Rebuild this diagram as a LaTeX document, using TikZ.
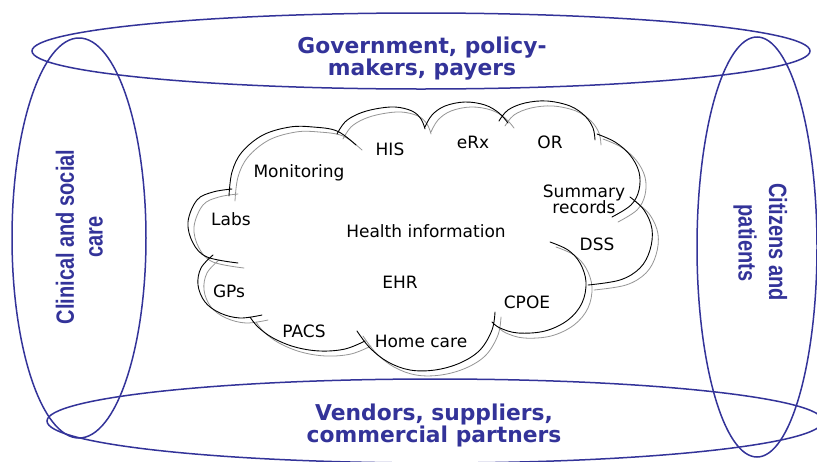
\documentclass[tikz,border=0pt]{standalone}
\usepackage{fontspec}
\setmainfont{DejaVu Sans}
\newfontfamily\narrowbold{Liberation Sans}[FakeStretch=0.8]
\definecolor{ebl}{RGB}{51,51,153}
\definecolor{shadowgray}{RGB}{150,150,150}
\newcommand\cloudbumps{%
  % Labs
  plot[smooth,tension=0.6] coordinates {(232,189) (213,192) (197,200) (188,222) (193,243) (207,257) (238,263)}
  % Monitoring
  plot[smooth,tension=0.6] coordinates {(229,196) (232,172) (242,152) (263,135) (290,127) (313,127) (337,131) (356,145)}
  % HIS
  plot[smooth,tension=0.6] coordinates {(337,134) (345,122) (358,114) (375,109) (395,107) (412,111) (421,119) (425,129)}
  % eRx
  plot[smooth,tension=0.6] coordinates {(425,127) (432,115) (445,106) (465,102) (485,105) (499,113) (508,123)}
  % OR
  plot[smooth,tension=0.6] coordinates {(499,121) (508,110) (525,103) (547,101) (570,106) (585,116) (593,128) (595,140)}
  % Summary
  plot[smooth,tension=0.6] coordinates {(597,134) (615,142) (630,155) (639,172) (639,190) (631,205) (612,217)}
  % DSS
  plot[smooth,tension=0.6] coordinates {(630,197) (644,210) (652,229) (650,250) (640,268) (620,280) (588,285)}
  % CPOE
  plot[smooth,tension=0.6] coordinates {(550,242) (568,250) (580,263) (586,282) (582,303) (568,320) (545,331) (518,333) (500,328) (492,322)}
  % Home care
  plot[smooth,tension=0.6] coordinates {(495,312) (492,330) (480,350) (460,363) (435,370) (410,370) (388,362) (370,348) (357,331)}
  % PACS
  plot[smooth,tension=0.6] coordinates {(365,341) (345,349) (320,351) (295,347) (273,338) (258,327) (250,317)}
  % GPs
  plot[smooth,tension=0.6] coordinates {(262,315) (240,318) (220,313) (205,302) (198,285) (201,268) (213,255)}
}
\begin{document}
\begin{tikzpicture}[x=1pt,y=-1pt,
  ring/.style={draw=ebl, line width=1.5pt},
  bigtxt/.style={font=\fontsize{21.8}{24}\selectfont\bfseries, text=ebl, anchor=base, inner sep=0pt},
  sidetxt/.style={font=\narrowbold\bfseries\fontsize{25}{30}\selectfont, text=ebl, inner sep=0pt},
  lbl/.style={font=\fontsize{17}{19}\selectfont, anchor=base, inner sep=0pt},
  puff/.style={line width=0.9pt, line cap=round},
]
\useasboundingbox (0,0) rectangle (817,461);
\clip (0,0) rectangle (817,461);
\fill[white] (0,0) rectangle (817,461);

% stakeholder rings
\draw[ring] (421,51) ellipse [x radius=389, y radius=38];
\draw[ring] (435,421) ellipse [x radius=388, y radius=42];
\draw[ring] (79,238) ellipse [x radius=67, y radius=200];
\draw[ring] (757,247) ellipse [x radius=60, y radius=210];

% cloud: gray shadow copy, then black outline
\begin{scope}[shift={(6,5)}]
  \draw[puff, draw=shadowgray, line width=0.8pt] \cloudbumps;
\end{scope}
\draw[puff, draw=black] \cloudbumps;

% ring labels
\node[bigtxt] (gov1) at (422,53) {Government, policy-};
\node[bigtxt] (gov2) at (422,75) {makers, payers};
\node[bigtxt] (ven1) at (434,420) {Vendors, suppliers,};
\node[bigtxt] (ven2) at (434,442) {commercial partners};
\node[sidetxt, rotate=90] (cli1) at (65,237) {Clinical and social};
\node[sidetxt, rotate=90] (cli2) at (96,237) {care};
\node[sidetxt, rotate=-90] (cit1) at (778,242) {Citizens and};
\node[sidetxt, rotate=-90] (cit2) at (745,243) {patients};

% cloud labels
\node[lbl] (his) at (390,155) {HIS};
\node[lbl] (erx) at (473,148) {eRx};
\node[lbl] (or) at (550,148) {OR};
\node[lbl] (mon) at (299,177) {Monitoring};
\node[lbl] (sum1) at (584,197) {Summary};
\node[lbl] (sum2) at (584,213) {records};
\node[lbl] (labs) at (231,225) {Labs};
\node[lbl] (hi) at (426,237) {Health information};
\node[lbl] (dss) at (597,250) {DSS};
\node[lbl] (ehr) at (400,288) {EHR};
\node[lbl] (gps) at (229,297) {GPs};
\node[lbl] (cpoe) at (527,308) {CPOE};
\node[lbl] (pacs) at (304,337) {PACS};
\node[lbl] (home) at (421,347) {Home care};
\end{tikzpicture}
\end{document}
